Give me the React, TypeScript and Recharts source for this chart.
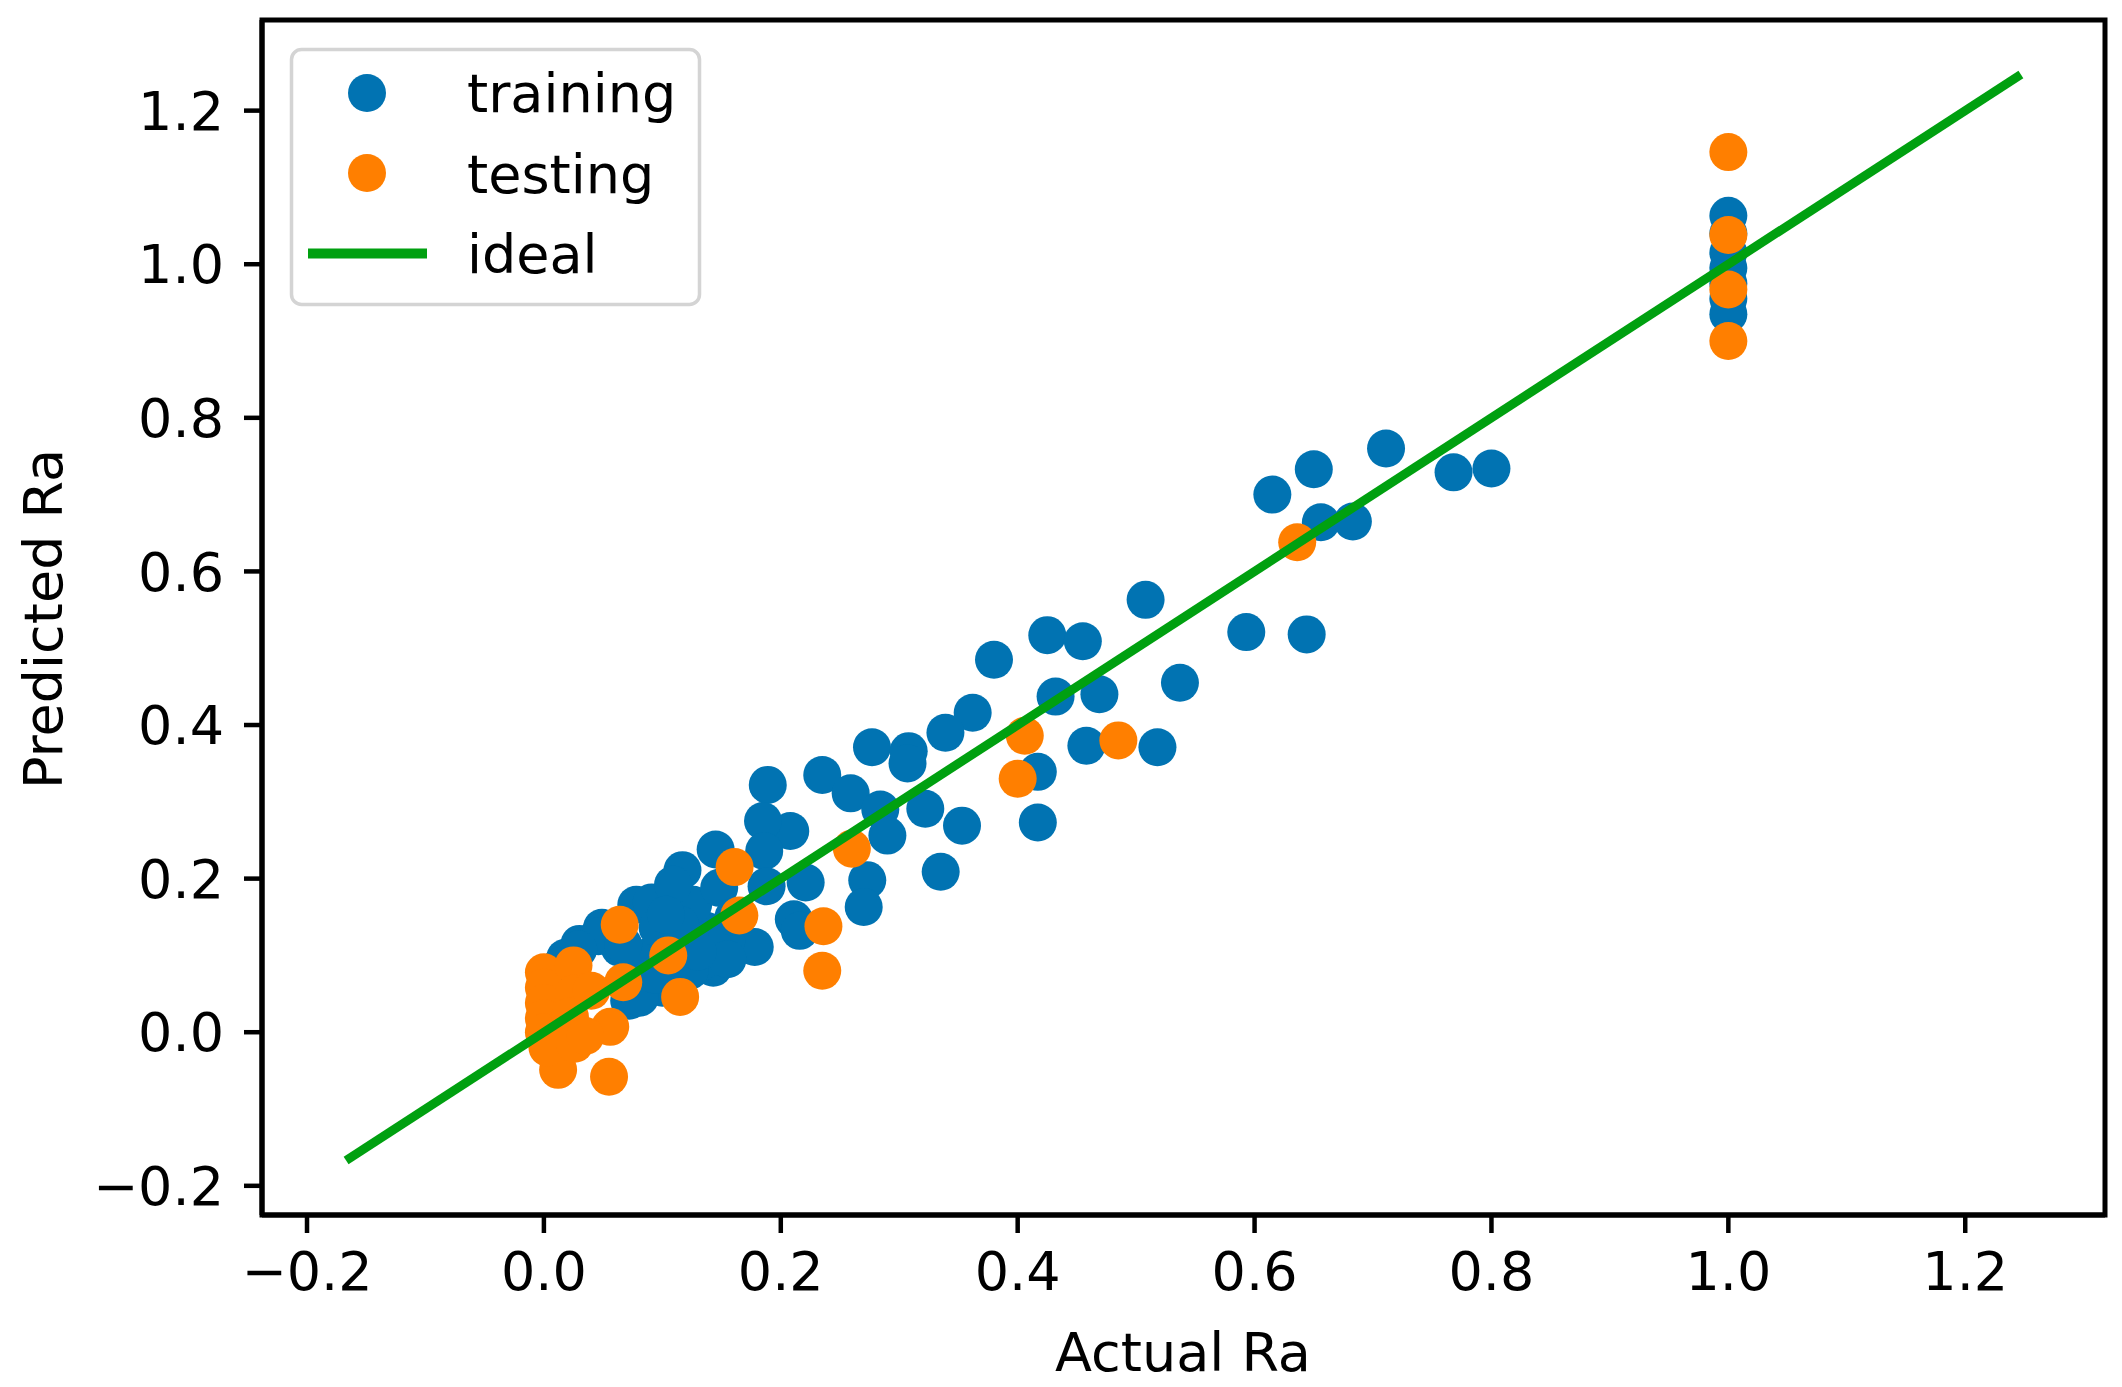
import React from 'react';
import { ScatterChart, Scatter, XAxis, YAxis, ReferenceArea } from 'recharts';

interface Pt {
    x: number;
    y: number;
}

// training set: actual vs predicted Ra
const trainActual = [
    0.711, 0.650, 0.615, 0.768, 0.800, 0.656, 0.683, 0.593, 0.644, 0.537,
    0.508, 0.425, 0.455, 0.380, 0.432, 0.469, 0.362, 0.339, 0.458, 0.518,
    0.277, 0.308, 0.307, 0.417, 0.189, 0.235, 0.259, 0.284, 0.322, 0.353,
    0.417, 0.290, 0.208, 0.185, 0.186, 0.335, 0.221, 0.188, 0.273, 0.270,
    0.211, 0.216, 0.178, 0.145, 0.117, 0.143, 0.078, 0.091, 0.049, 0.030,
    0.018, 0.072, 0.100, 0.103, 0.137, 0.154, 0.126, 0.148, 0.109, 0.064,
    0.086, 0.114, 0.096, 0.046, 0.029, 0.014, 0.132, 0.160, 0.123, 0.081,
    0.115, 0.067, 0.094, 0.155, 0.130, 0.103,
    1.0, 1.0, 1.0, 1.0, 1.0, 1.0, 1.0,
];
const trainPredicted = [
    0.760, 0.733, 0.700, 0.729, 0.734, 0.664, 0.665, 0.521, 0.518, 0.455,
    0.563, 0.517, 0.509, 0.485, 0.437, 0.440, 0.416, 0.390, 0.373, 0.371,
    0.371, 0.366, 0.350, 0.339, 0.322, 0.335, 0.311, 0.290, 0.291, 0.269,
    0.273, 0.256, 0.262, 0.275, 0.236, 0.209, 0.195, 0.190, 0.198, 0.163,
    0.147, 0.132, 0.111, 0.238, 0.211, 0.084, 0.166, 0.169, 0.136, 0.115,
    0.097, 0.041, 0.058, 0.136, 0.132, 0.119, 0.166, 0.188, 0.192, 0.110,
    0.097, 0.097, 0.136, 0.125, 0.108, 0.086, 0.090, 0.150, 0.080, 0.045,
    0.140, 0.114, 0.075, 0.095, 0.105, 0.153,
    1.063, 1.040, 1.015, 0.995, 0.975, 0.955, 0.935,
];

// testing set
const testActual = [
    1.0, 1.0, 1.0, 1.0, 0.636, 0.485, 0.406, 0.400, 0.260, 0.236,
    0.235, 0.161, 0.165, 0.064, 0.105, 0.115, 0.067, 0.056, 0.055, 0.012,
    0.0, 0.0, 0.0, 0.0, 0.0, 0.003, 0.025, 0.025, 0.022, 0.026,
    0.040, 0.035,
];
const testPredicted = [
    1.146, 1.038, 0.967, 0.900, 0.638, 0.380, 0.386, 0.330, 0.239, 0.138,
    0.080, 0.215, 0.152, 0.140, 0.100, 0.046, 0.065, 0.007, -0.058, -0.049,
    0.078, 0.058, 0.038, 0.018, 0.000, -0.020, 0.087, 0.050, 0.020, -0.015,
    0.054, -0.005,
];

const idealRange = [-0.167, 1.247];
const tickValues = [-0.2, 0.0, 0.2, 0.4, 0.6, 0.8, 1.0, 1.2];
const axisDomain = [-0.238, 1.318];

const BLUE = '#0173b2';
const ORANGE = '#ff7f00';
const GREEN = '#00a010';
const FONT = 'DejaVu Sans';
const FS = 54;

const zip = (xs: number[], ys: number[]): Pt[] => xs.map((x, i) => ({ x, y: ys[i] }));
const trainData = zip(trainActual, trainPredicted);
const testData = zip(testActual, testPredicted);
const idealData = idealRange.map((v) => ({ x: v, y: v }));

const fmt = (v: number) => (v < 0 ? '\u2212' + Math.abs(v).toFixed(1) : v.toFixed(1));

const dot = (color: string) => (props: any) => <circle cx={props.cx} cy={props.cy} r={19} fill={color} />;

const tickStyle = { fontSize: FS, fill: '#000', fontFamily: FONT };

const Legendbox = () => (
    <svg width={2122} height={400} style={{ position: 'absolute', left: 0, top: 0, pointerEvents: 'none' }}>
        <rect x={291.5} y={49.5} width={408} height={255} rx={10} fill="#fff" fillOpacity={0.8} stroke="#d4d4d4" strokeWidth={3.5} />
        <circle cx={367} cy={93} r={19} fill={BLUE} />
        <circle cx={367} cy={173} r={19} fill={ORANGE} />
        <line x1={308} x2={427} y1={253.5} y2={253.5} stroke={GREEN} strokeWidth={10} />
        <g fontFamily={FONT} fontSize={FS} fill="#000">
            <text x={467} y={112}>training</text>
            <text x={467} y={193}>testing</text>
            <text x={467} y={273}>ideal</text>
        </g>
    </svg>
);

const App: React.FC = () => {
    return (
        <div style={{ position: 'absolute', left: 0, top: 0, width: 2122, height: 1387, background: '#fff' }}>
            <ScatterChart width={2122} height={1387} margin={{ top: 20, right: 17, bottom: 0, left: 0 }}>
                <XAxis
                    type="number"
                    dataKey="x"
                    domain={axisDomain}
                    ticks={tickValues}
                    tickFormatter={fmt}
                    allowDataOverflow
                    height={172}
                    tick={tickStyle}
                    tickSize={18}
                    tickMargin={19}
                    tickLine={{ stroke: '#000', strokeWidth: 4.5 }}
                    axisLine={{ stroke: '#000', strokeWidth: 5 }}
                    label={{
                        content: () => (
                            <text x={1183} y={1371} textAnchor="middle" fontFamily={FONT} fontSize={FS} fill="#000">
                                Actual Ra
                            </text>
                        ),
                    }}
                />
                <YAxis
                    type="number"
                    dataKey="y"
                    domain={axisDomain}
                    ticks={tickValues}
                    tickFormatter={fmt}
                    allowDataOverflow
                    width={262}
                    tick={tickStyle}
                    tickSize={18}
                    tickMargin={20}
                    tickLine={{ stroke: '#000', strokeWidth: 4.5 }}
                    axisLine={{ stroke: '#000', strokeWidth: 5 }}
                    label={{
                        content: () => (
                            <text transform="translate(62,619) rotate(-90)" textAnchor="middle" fontFamily={FONT} fontSize={FS} fill="#000">
                                Predicted Ra
                            </text>
                        ),
                    }}
                />
                <ReferenceArea
                    x1={axisDomain[0]}
                    x2={axisDomain[1]}
                    y1={axisDomain[0]}
                    y2={axisDomain[1]}
                    fill="none"
                    stroke="#000"
                    strokeWidth={5}
                />
                <Scatter name="training" data={trainData} shape={dot(BLUE)} isAnimationActive={false} />
                <Scatter name="testing" data={testData} shape={dot(ORANGE)} isAnimationActive={false} />
                <Scatter
                    name="ideal"
                    data={idealData}
                    line={{ stroke: GREEN, strokeWidth: 9 }}
                    shape={() => <g />}
                    isAnimationActive={false}
                />
            </ScatterChart>
            <Legendbox />
        </div>
    );
};

export default App;
